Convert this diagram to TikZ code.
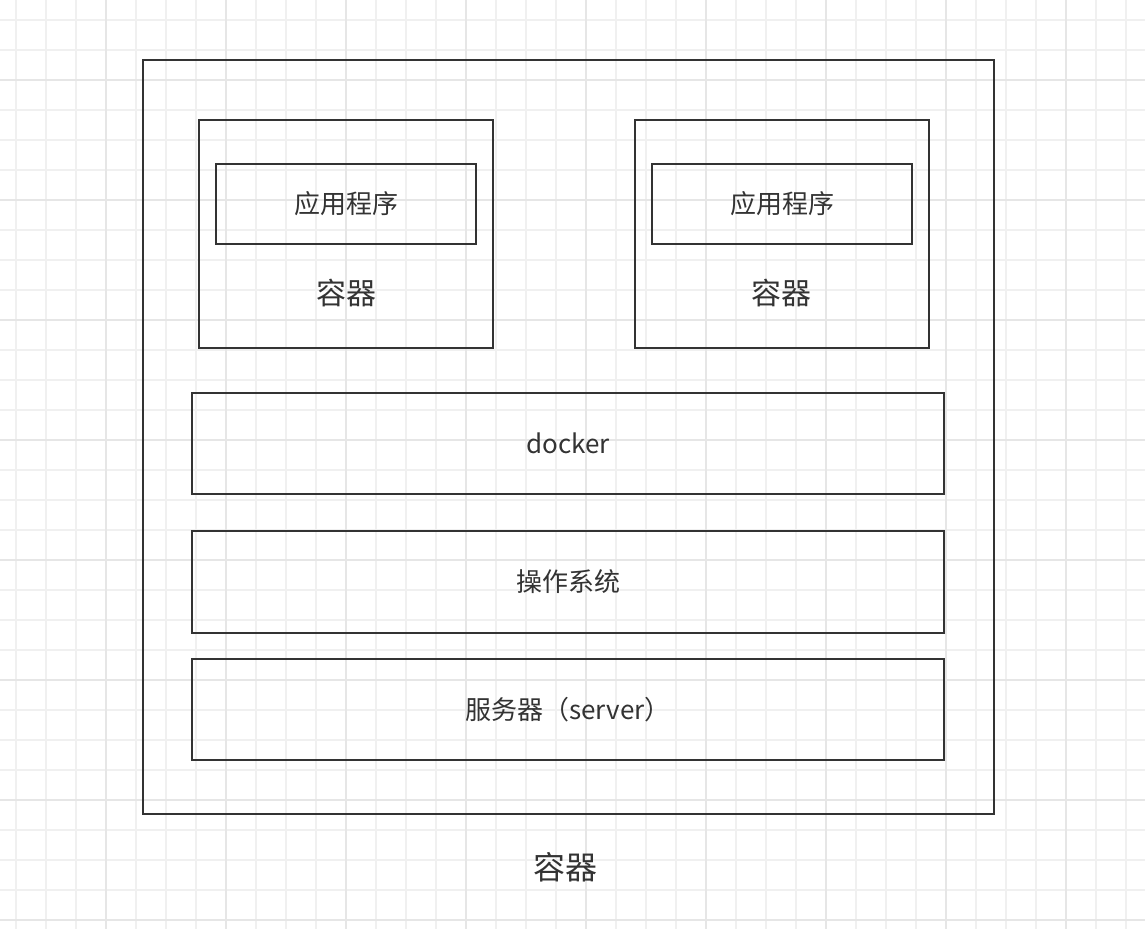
\documentclass[tikz,border=0pt]{standalone}
\usepackage{fontspec}
\newfontfamily\cjk{Noto Sans CJK SC}
\definecolor{edgegray}{HTML}{333333}
\definecolor{minorgrid}{HTML}{F0F0F0}
\definecolor{majorgrid}{HTML}{E6E6E6}
\tikzset{
  layer/.style={draw=edgegray, line width=1.8pt, inner sep=0pt,
    text=edgegray, font=\cjk\fontsize{26}{30}\selectfont},
  caption/.style={text=edgegray, inner sep=0pt, font=\cjk\fontsize{30}{34}\selectfont}
}
\begin{document}
\begin{tikzpicture}[x=1pt, y=-1pt]
  \useasboundingbox (0,0) rectangle (1145,929);
  % background grid
  \foreach \gx in {16,46,...,1145} {
    \draw[minorgrid, line width=1.2pt] (\gx,0) -- (\gx,929);
  }
  \foreach \gy in {20,50,...,929} {
    \draw[minorgrid, line width=1.2pt] (0,\gy) -- (1145,\gy);
  }
  \foreach \gx in {106,226,...,1145} {
    \draw[majorgrid, line width=1.2pt] (\gx,0) -- (\gx,929);
  }
  \foreach \gy in {80,200,...,929} {
    \draw[majorgrid, line width=1.2pt] (0,\gy) -- (1145,\gy);
  }

  % host box
  \node[layer, minimum width=851pt, minimum height=754pt] (host) at (568.5,437) {};
  \node[caption, font=\cjk\fontsize{32}{36}\selectfont] (hostlabel) at (565,867) {容器};

  % containers
  \node[layer, minimum width=294pt, minimum height=228pt] (boxl) at (346,234) {};
  \node[layer, minimum width=260pt, minimum height=80pt] (appl) at (346,204) {应用程序};
  \node[caption] (labell) at (346,293) {容器};

  \node[layer, minimum width=294pt, minimum height=228pt] (boxr) at (782,234) {};
  \node[layer, minimum width=260pt, minimum height=80pt] (appr) at (782,204) {应用程序};
  \node[caption] (labelr) at (781,293) {容器};

  % stack
  \node[layer, minimum width=752pt, minimum height=101pt] (docker) at (568,443.5) {docker};
  \node[layer, minimum width=752pt, minimum height=102pt] (os) at (568,582) {操作系统};
  \node[layer, minimum width=752pt, minimum height=101pt] (server) at (568,709.5) {服务器（server）};
\end{tikzpicture}
\end{document}
